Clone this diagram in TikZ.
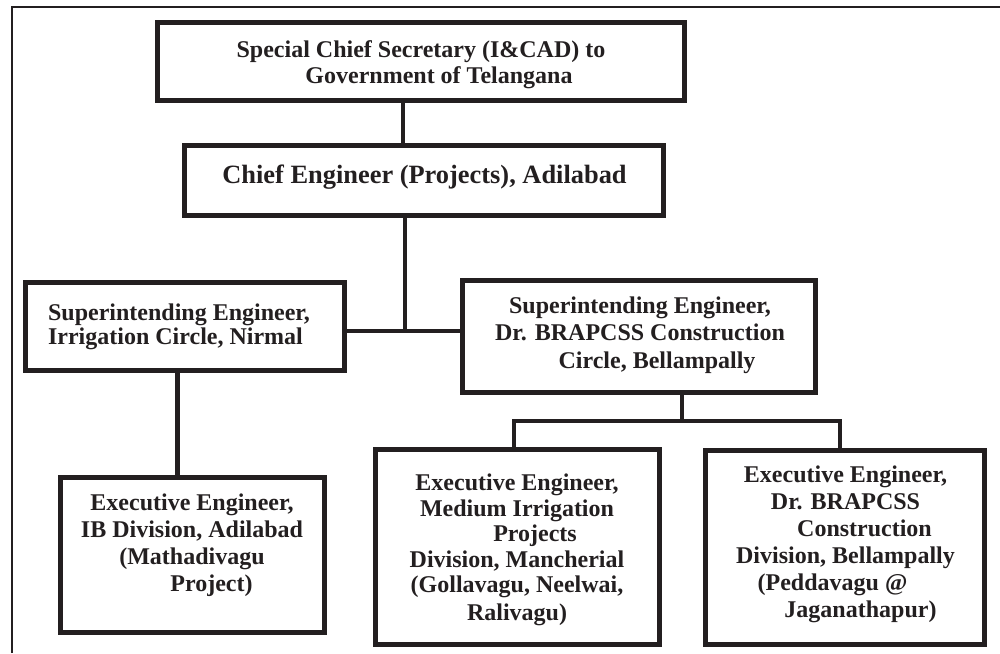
\documentclass[tikz,border=0pt]{standalone}
\usepackage{fontspec}
\setmainfont{Liberation Serif}
\definecolor{ink}{HTML}{231F20}
\begin{document}
\begin{tikzpicture}[x=1pt,y=-1pt,
  box/.style={draw=ink, line width=5pt, rectangle, inner sep=0pt},
  txt/.style={text=ink, inner sep=0pt},
  link/.style={draw=ink, line width=4.5pt},
  frameline/.style={draw=ink, line width=2pt}]
\useasboundingbox (0,0) rectangle (1000,653);
% outer frame
\draw[frameline] (12,653) -- (12,7) -- (1000,7);
% boxes
\node[box, minimum width=527pt, minimum height=78pt] (b1) at (421,61.5) {};
\node[box, minimum width=479pt, minimum height=70pt] (b2) at (424,180.5) {};
\node[box, minimum width=319pt, minimum height=88pt] (b3) at (185,326.5) {};
\node[box, minimum width=353pt, minimum height=112pt] (b4) at (639,336.5) {};
\node[box, minimum width=264pt, minimum height=155pt] (b5) at (192.5,555) {};
\node[box, minimum width=284pt, minimum height=195pt] (b6) at (517.5,547) {};
\node[box, minimum width=279pt, minimum height=194pt] (b7) at (845,547.5) {};
% texts
\node[txt, align=center, font=\fontsize{24}{26}\selectfont\bfseries] (t1) at (421,65)
  {Special Chief Secretary (I\&CAD) to\\\hspace*{36pt}Government of Telangana};
\node[txt, font=\fontsize{26.4}{30}\selectfont\bfseries] (t2) at (424.5,177)
  {Chief Engineer (Projects), Adilabad};
\node[txt, align=left, font=\fontsize{24}{23.5}\selectfont\bfseries] (t3) at (179,327)
  {Superintending Engineer,\\Irrigation Circle, Nirmal};
\node[txt, align=center, font=\fontsize{24}{27.5}\selectfont\bfseries] (t4) at (640,335)
  {Superintending Engineer,\\Dr. BRAPCSS Construction\\\hspace*{34pt}Circle, Bellampally};
\node[txt, align=center, font=\fontsize{24}{27}\selectfont\bfseries] (t5) at (192,545.5)
  {Executive Engineer,\\IB Division, Adilabad\\(Mathadivagu\\\hspace*{39pt}Project)};
\node[txt, align=center, font=\fontsize{24}{25.6}\selectfont\bfseries] (t6) at (517,550)
  {Executive Engineer,\\Medium Irrigation\\\hspace*{36pt}Projects\\Division, Mancherial\\(Gollavagu, Neelwai,\\[2.5pt]Ralivagu)};
\node[txt, align=center, font=\fontsize{24}{27}\selectfont\bfseries] (t7) at (845.5,544)
  {Executive Engineer,\\Dr. BRAPCSS\\\hspace*{38pt}Construction\\Division, Bellampally\\(Peddavagu @\hspace*{26pt}\mbox{}\\\hspace*{30pt}Jaganathapur)};
% connectors
\coordinate (c1) at (403,0);
\draw[link] (b1.south -| c1) -- (b2.north -| c1);
\coordinate (j1) at (405,331);
\draw[link] (b2.south -| j1) -- (j1);
\draw[link] (b3.east |- j1) -- (b4.west |- j1);
\coordinate (c2) at (177.5,0);
\draw[link] (b3.south -| c2) -- (b5.north -| c2);
\coordinate (j2) at (682,421);
\coordinate (l2) at (514,421);
\coordinate (r2) at (840,421);
\draw[link] (b4.south -| j2) -- (j2);
\draw[link] (b6.north -| l2) -- (l2) -- (r2) -- (b7.north -| r2);
\end{tikzpicture}
\end{document}
